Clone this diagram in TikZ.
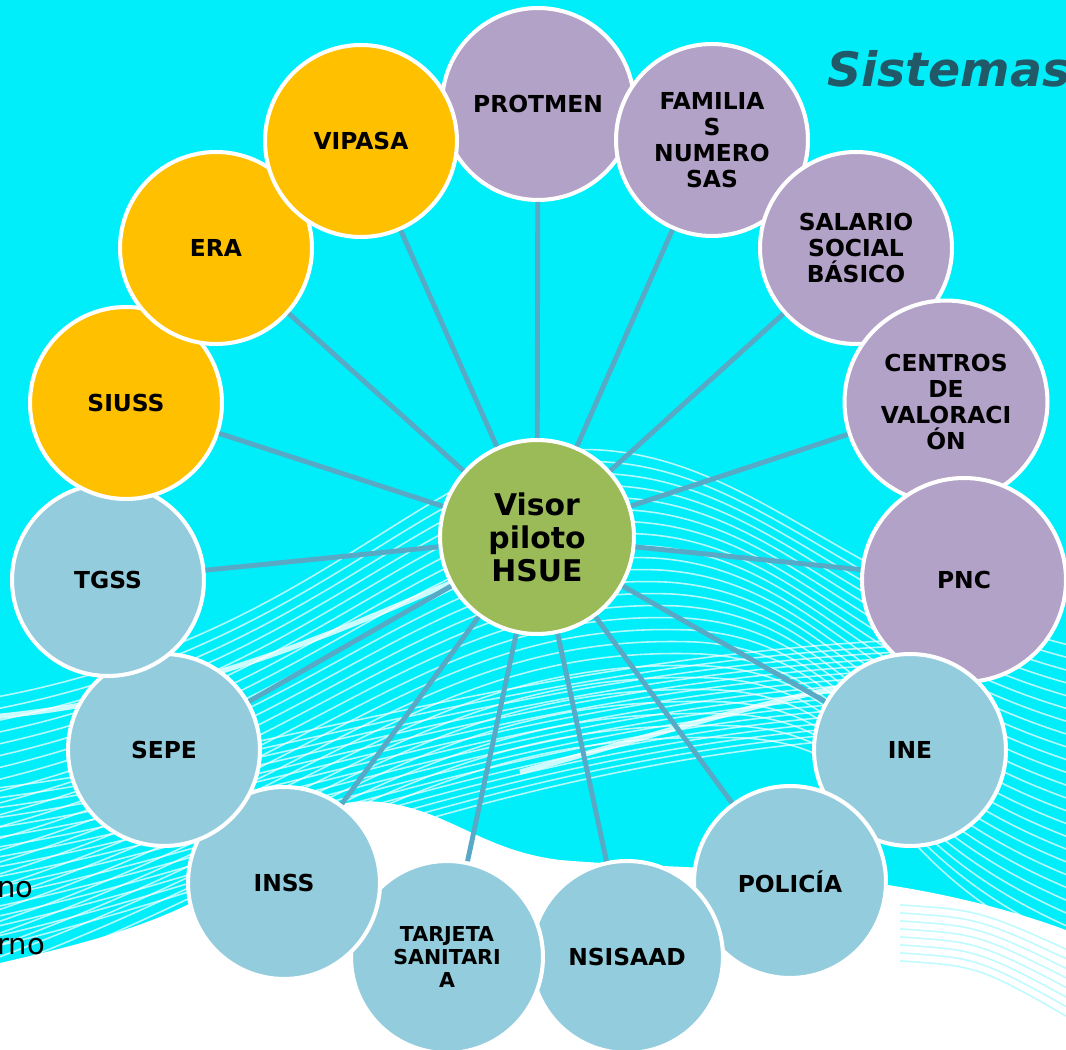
\documentclass[tikz,border=0pt]{standalone}
\usepackage{fontspec}
\setmainfont{DejaVu Sans}
\usepackage{xcolor}
\usetikzlibrary{arrows.meta}

\definecolor{bgcyan}{HTML}{00EEFA}
\definecolor{hubgreen}{HTML}{9BBB59}
\definecolor{sunny}{HTML}{FFC000}
\definecolor{lilac}{HTML}{B3A2C7}
\definecolor{paleblue}{HTML}{93CDDD}
\definecolor{linkblue}{HTML}{58A9C6}
\definecolor{titleteal}{HTML}{215968}

\tikzset{
  bubble/.style={draw=white, line width=2.3pt, circle, minimum size=3.84cm, inner sep=0pt, align=center,
    font=\fontsize{13.3}{14.8}\selectfont\bfseries},
  wave/.style={white, line width=0.9pt, opacity=0.7},
  link/.style={draw=linkblue, line width=2.8pt}
}

\begin{document}
\begin{tikzpicture}[x=0.02cm, y=-0.02cm]
    \useasboundingbox (0,0) rectangle (1066,1050);
    \clip (0,0) rectangle (1066,1050);

    % background
    \fill[bgcyan] (0,0) rectangle (1066,1050);
    \foreach \k in {0,...,24}
      \draw[wave] (-20,{700+12*\k}) .. controls (330,{640+9*\k}) and (430,{440+12*\k}) .. ({600+6*\k},{450+12*\k})
                  .. controls ({760+6*\k},{460+12*\k}) and (860,{600+11*\k}) .. (1090,{650+13*\k});
    \foreach \k in {0,...,16}
      \draw[wave] (-20,{790+10*\k}) .. controls (250,{760+8*\k}) and (520,{660+6*\k}) .. (900,{640+6*\k});
    \draw[white, line width=3pt, opacity=0.8] (-20,718) .. controls (200,700) and (360,620) .. (470,575);
    \draw[white, line width=3pt, opacity=0.8] (520,772) .. controls (640,740) and (760,700) .. (880,680);
    \fill[white] (0,963) .. controls (100,940) and (200,915) .. (270,850)
                 .. controls (310,810) and (340,798) .. (380,802)
                 .. controls (450,810) and (480,850) .. (560,860)
                 .. controls (700,872) and (880,862) .. (1066,930) -- (1066,1050) -- (0,1050) -- cycle;
    \foreach \k in {0,...,7}
      \draw[bgcyan, line width=0.9pt, opacity=0.25] (900,{905+8*\k}) .. controls (980,{910+8*\k}) .. (1090,{960+10*\k});

    % title and side texts
    \node[anchor=base west, text=titleteal, font=\fontsize{27}{30}\selectfont\bfseries\itshape] (title) at (821,87) {Sistemas};
    \node[anchor=base west, inner sep=0pt, font=\fontsize{16.5}{20}\selectfont] (sideA) at (-3,898) {no};
    \node[anchor=base west, inner sep=0pt, font=\fontsize{16.5}{20}\selectfont] (sideB) at (-3,955) {rno};

    % hub
    \node[bubble, fill=hubgreen, minimum size=3.88cm, font=\fontsize{17}{18.8}\selectfont\bfseries] (hub) at (537,537) {Visor\\piloto\\HSUE};

    % outer circles, clockwise from the top
    \node[bubble, fill=lilac] (protmen) at (538,104) {PROTMEN};
    \node[bubble, fill=lilac] (familias) at (712,140) {FAMILIA\\S\\NUMERO\\SAS};
    \node[bubble, fill=lilac] (salario) at (856,248) {SALARIO\\SOCIAL\\BÁSICO};
    \node[bubble, fill=lilac, minimum size=4.06cm] (centros) at (946,402) {CENTROS\\DE\\VALORACI\\ÓN};
    \node[bubble, fill=lilac, minimum size=4.08cm] (pnc) at (964,580) {PNC};
    \node[bubble, fill=paleblue] (ine) at (910,750) {INE};
    \node[bubble, fill=paleblue] (policia) at (790,882) {POLICÍA};
    \node[bubble, fill=paleblue] (nsisaad) at (627,957) {NSISAAD};
    \node[bubble, fill=paleblue, font=\fontsize{11.7}{13}\selectfont\bfseries] (tarjeta) at (447,957) {TARJETA\\SANITARI\\A};
    \node[bubble, fill=paleblue] (inss) at (284,883) {INSS};
    \node[bubble, fill=paleblue] (sepe) at (164,750) {SEPE};
    \node[bubble, fill=paleblue] (tgss) at (108,580) {TGSS};
    \node[bubble, fill=sunny] (siuss) at (126,403) {SIUSS};
    \node[bubble, fill=sunny] (era) at (216,248) {ERA};
    \node[bubble, fill=sunny] (vipasa) at (361,141) {VIPASA};

    \path [link] (hub) edge (protmen);
    \path [link] (hub) edge (familias);
    \path [link] (hub) edge (salario);
    \path [link] (hub) edge (centros);
    \path [link] (hub) edge (pnc);
    \path [link] (hub) edge (ine);
    \path [link] (hub) edge (policia);
    \path [link] (hub) edge (nsisaad);
    \path [link] (hub) edge (tarjeta);
    \path [link] (hub) edge (inss);
    \path [link] (hub) edge (sepe);
    \path [link] (hub) edge (tgss);
    \path [link] (hub) edge (siuss);
    \path [link] (hub) edge (era);
    \path [link] (hub) edge (vipasa);
  \end{tikzpicture}
\end{document}
